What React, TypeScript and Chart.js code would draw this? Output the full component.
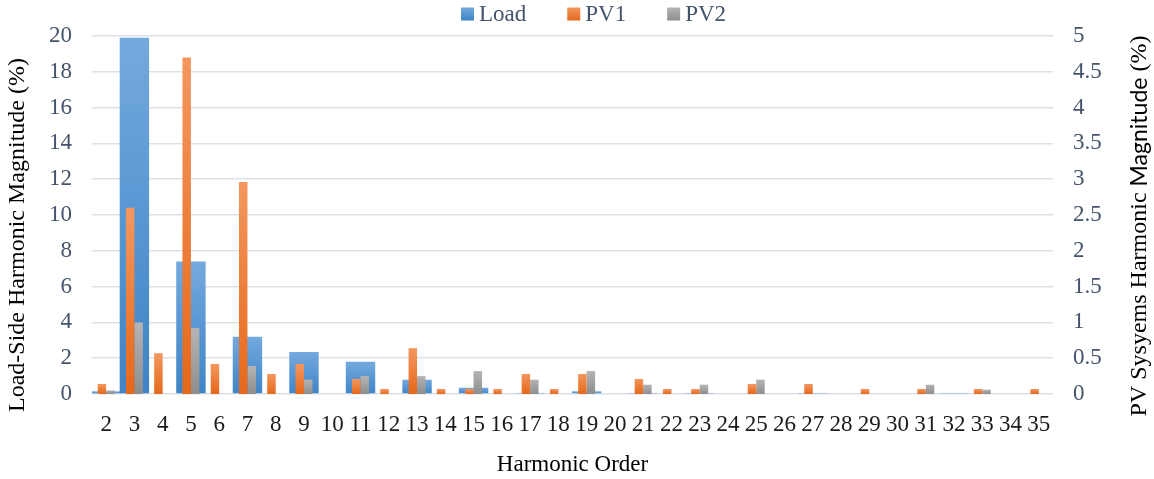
import React, { useEffect, useRef } from "react";
import { Chart, registerables } from "chart.js";

Chart.register(...registerables);

const categories = [
  "2", "3", "4", "5", "6", "7", "8", "9", "10", "11", "12", "13", "14", "15", "16", "17", "18",
  "19", "20", "21", "22", "23", "24", "25", "26", "27", "28", "29", "30", "31", "32", "33", "34", "35",
];

const loadValues = [
  0.15, 19.9, 0, 7.4, 0, 3.2, 0, 2.35, 0, 1.8,
  0, 0.8, 0, 0.35, 0, 0.06, 0, 0.15, 0, 0.06,
  0, 0.06, 0, 0, 0, 0.06, 0, 0, 0, 0,
  0.06, 0, 0, 0,
];

const pv1Values = [
  0.14, 2.6, 0.57, 4.7, 0.42, 2.96, 0.28, 0.42, 0, 0.21,
  0.07, 0.64, 0.07, 0.07, 0.07, 0.28, 0.07, 0.28, 0, 0.21,
  0.07, 0.07, 0, 0.14, 0, 0.14, 0, 0.07, 0, 0.07,
  0, 0.07, 0, 0.07,
];

const pv2Values = [
  0.05, 1.0, 0, 0.92, 0, 0.39, 0, 0.2, 0, 0.25,
  0, 0.25, 0, 0.32, 0, 0.2, 0, 0.32, 0, 0.13,
  0, 0.13, 0, 0.2, 0, 0, 0, 0, 0, 0.13,
  0, 0.06, 0, 0,
];

const leftTicks = [0, 2, 4, 6, 8, 10, 12, 14, 16, 18, 20];
const rightTicks = [0, 0.5, 1, 1.5, 2, 2.5, 3, 3.5, 4, 4.5, 5];

const leftTitle = "Load-Side Harmonic Magnitude (%)";
const rightTitleParts = ["PV Sysyems Harmonic ", "Magnitude", " (%)"];
const xTitle = "Harmonic Order";

const FONT = '"Liberation Serif", "Times New Roman", serif';
const SANS = 'Lato, "Noto Sans", sans-serif';
const TICK_COLOR = "#44546a";

const palette: Record<string, [string, string]> = {
  Load: ["#74a9de", "#3e84c6"],
  PV1: ["#f4975f", "#e5681a"],
  PV2: ["#b4b4b4", "#8e8e8e"],
};

function barGradient(name: string) {
  return (ctx: any) => {
    const chart = ctx.chart;
    const [top, bottom] = palette[name];
    if (!chart.chartArea || ctx.raw == null) return top;
    const ds = ctx.dataset;
    const scale = chart.scales[ds.yAxisID];
    if (!scale) return top;
    const yTop = scale.getPixelForValue(ctx.raw);
    const yBot = scale.getPixelForValue(0);
    if (!isFinite(yTop) || !isFinite(yBot) || Math.abs(yBot - yTop) < 1) return bottom;
    const g = chart.ctx.createLinearGradient(0, yTop, 0, yBot);
    g.addColorStop(0, top);
    g.addColorStop(1, bottom);
    return g;
  };
}

const decorPlugin = {
  id: "decor",
  afterDraw(chart: any) {
    const ctx = chart.ctx;
    ctx.save();
    // legend
    ctx.font = `23px ${FONT}`;
    ctx.textBaseline = "middle";
    ctx.textAlign = "left";
    let x = 461;
    const y = 14;
    const box = 13;
    chart.data.datasets.forEach((ds: any) => {
      const [top, bottom] = palette[ds.label];
      const g = ctx.createLinearGradient(0, y - box / 2, 0, y + box / 2);
      g.addColorStop(0, top);
      g.addColorStop(1, bottom);
      ctx.fillStyle = g;
      ctx.fillRect(x, y - box / 2, box, box);
      x += box + 5;
      ctx.fillStyle = TICK_COLOR;
      ctx.fillText(ds.label, x, y + 1);
      x += ctx.measureText(ds.label).width + 41;
    });

    // left axis title
    ctx.fillStyle = "#000";
    ctx.save();
    ctx.translate(18, 235);
    ctx.rotate(-Math.PI / 2);
    ctx.font = `24px ${FONT}`;
    ctx.textAlign = "center";
    ctx.textBaseline = "middle";
    ctx.fillText(leftTitle, 0, 0);
    ctx.restore();

    // right axis title (mixed fonts)
    ctx.save();
    ctx.translate(1140, 226);
    ctx.rotate(-Math.PI / 2);
    ctx.textAlign = "left";
    ctx.textBaseline = "middle";
    const fonts = [`24px ${FONT}`, `23px ${SANS}`, `24px ${FONT}`];
    const widths = rightTitleParts.map((t, i) => {
      ctx.font = fonts[i];
      return ctx.measureText(t).width;
    });
    let px = -widths.reduce((a, b) => a + b, 0) / 2;
    rightTitleParts.forEach((t, i) => {
      ctx.font = fonts[i];
      ctx.fillText(t, px, 0);
      px += widths[i];
    });
    ctx.restore();

    ctx.restore();
  },
};

export default function App() {
  const ref = useRef<HTMLCanvasElement | null>(null);

  useEffect(() => {
    if (!ref.current) return;
    Chart.defaults.font.family = FONT;
    const chart = new Chart(ref.current, {
      type: "bar",
      data: {
        labels: categories,
        datasets: [
          {
            label: "Load",
            data: loadValues,
            yAxisID: "y",
            backgroundColor: barGradient("Load"),
            categoryPercentage: 1,
            barPercentage: 1.04,
            grouped: false,
            order: 2,
          } as any,
          {
            label: "PV1",
            data: pv1Values,
            yAxisID: "y2",
            backgroundColor: barGradient("PV1"),
            categoryPercentage: 0.6,
            barPercentage: 1,
            order: 1,
          } as any,
          {
            label: "PV2",
            data: pv2Values,
            yAxisID: "y2",
            backgroundColor: barGradient("PV2"),
            categoryPercentage: 0.6,
            barPercentage: 1,
            order: 1,
          } as any,
        ],
      },
      options: {
        animation: false,
        responsive: false,
        layout: { padding: { top: 36, left: 0, right: 0, bottom: 0 } },
        plugins: {
          legend: { display: false },
          tooltip: { enabled: false },
        },
        scales: {
          x: {
            type: "category",
            position: "bottom",
            offset: true,
            grid: { display: false, drawTicks: false },
            border: { display: false },
            ticks: {
              autoSkip: false,
              maxRotation: 0,
              minRotation: 0,
              padding: 17,
              color: "#1a1a1a",
              font: { size: 23, family: FONT },
            },
            title: {
              display: true,
              text: xTitle,
              color: "#000",
              font: { size: 23, family: FONT },
              padding: { top: 10, bottom: 0 },
            },
            afterFit: (s: any) => {
              s.height = 85;
            },
          },
          y: {
            type: "linear",
            position: "left",
            min: 0,
            max: 20,
            afterBuildTicks: (s: any) => {
              s.ticks = leftTicks.map((v) => ({ value: v }));
            },
            grid: { color: "#dde1e7", lineWidth: 1.5, drawTicks: false },
            border: { display: false },
            ticks: {
              padding: 20,
              color: TICK_COLOR,
              font: { size: 23, family: FONT },
              callback: (v: any) => String(v),
            },
            afterFit: (s: any) => {
              s.width = 92;
            },
          },
          y2: {
            type: "linear",
            position: "right",
            min: 0,
            max: 5,
            afterBuildTicks: (s: any) => {
              s.ticks = rightTicks.map((v) => ({ value: v }));
            },
            grid: { display: false, drawTicks: false },
            border: { display: false },
            ticks: {
              padding: 20,
              color: TICK_COLOR,
              font: { size: 23, family: FONT },
              callback: (v: any) => String(v),
            },
            afterFit: (s: any) => {
              s.width = 101;
            },
          },
        },
      },
      plugins: [decorPlugin],
    } as any);
    return () => chart.destroy();
  }, []);

  return (
    <div style={{ position: "absolute", left: 0, top: 0, width: 1154, height: 479, background: "#fff" }}>
      <canvas ref={ref} width={1154} height={479} />
    </div>
  );
}
